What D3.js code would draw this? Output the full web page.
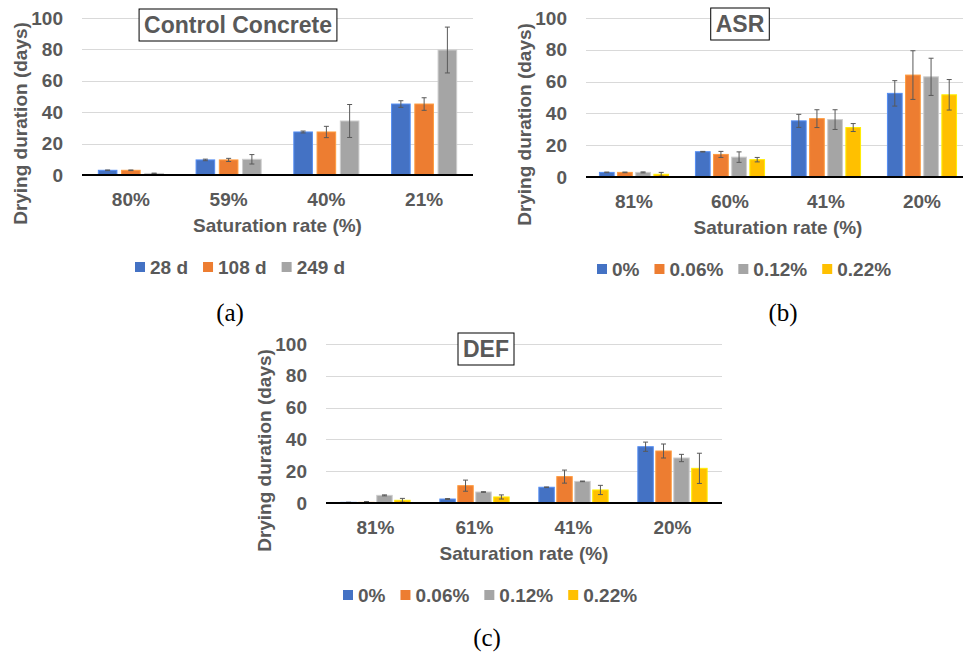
<!DOCTYPE html>
<meta charset="utf-8">
<style type="text/css">
body {
  margin: 0;
  background: #fff;
  font-family: "Liberation Sans", Arial, sans-serif;
}
svg text {
  fill: #595959;
  font-weight: bold;
  font-family: "Liberation Sans", Arial, sans-serif;
}
.grid line {
  stroke: #d9d9d9;
  stroke-width: 1px;
  shape-rendering: crispEdges;
}
.grid text, .cat text {
  font-size: 19px;
}
.title {
  font-size: 23px;
}
.axis-title {
  font-size: 19px;
}
.legend text {
  font-size: 19px;
}
svg text.panel-label {
  font-family: "Liberation Serif", "Times New Roman", serif;
  font-weight: normal;
  font-size: 25px;
  fill: #000;
}
.err {
  stroke: #595959;
  stroke-width: 1px;
}
</style>
<body>
</body>

<script src="https://cdn.jsdelivr.net/npm/d3@7"></script>
<script>
// colours (excel defaults)
var colors = ["#4472c4", "#ed7d31", "#a5a5a5", "#ffc000"];
var yTicks = [0, 20, 40, 60, 80, 100];

// (a) control concrete
var catsA = ["80%", "59%", "40%", "21%"];
var seriesA = ["28 d", "108 d", "249 d"];
var valsA = [
  [3.0, 9.6, 27.4, 45.2],
  [3.0, 9.6, 27.4, 45.2],
  [1.0, 10.0, 34.4, 79.6]
];
var errA = [
  [0.2, 0.5, 0.6, 2.1],
  [0.2, 1.0, 3.6, 4.0],
  [0.2, 3.0, 10.5, 14.6]
];

// (b) ASR
var catsB = ["81%", "60%", "41%", "20%"];
var seriesB = ["0%", "0.06%", "0.12%", "0.22%"];
var valsB = [
  [2.9, 15.9, 35.3, 52.6],
  [2.9, 14.2, 36.7, 64.1],
  [2.9, 12.5, 36.1, 63.0],
  [1.7, 10.9, 31.1, 51.7]
];
var errB = [
  [0.2, 0.2, 4.1, 8.0],
  [0.2, 1.9, 5.6, 15.3],
  [0.3, 3.3, 6.2, 11.7],
  [1.2, 1.4, 2.5, 9.6]
];

// (c) DEF
var catsC = ["81%", "61%", "41%", "20%"];
var seriesC = ["0%", "0.06%", "0.12%", "0.22%"];
var valsC = [
  [0.4, 2.5, 9.9, 35.4],
  [0.4, 10.9, 16.6, 32.7],
  [4.8, 6.9, 13.6, 28.3],
  [1.7, 3.8, 8.2, 21.8]
];
var errC = [
  [0.1, 0.3, 0.2, 2.9],
  [0.5, 3.5, 4.1, 4.4],
  [0.3, 0.2, 0.2, 2.3],
  [1.2, 1.3, 2.9, 9.5]
];

var panels = [
  { cats: catsA, series: seriesA, vals: valsA, errs: errA, title: "Control Concrete",
    x0: 82, x1: 473, yTop: 18, yBot: 175, step: 0.222, fill: 0.8,
    titleX: 238, titleY: 25, legendX: 135, label: "(a)", labelX: 230, labelY: 312 },
  { cats: catsB, series: seriesB, vals: valsB, errs: errB, title: "ASR",
    x0: 586, x1: 970, yTop: 18, yBot: 177, step: 0.18, fill: 0.81,
    titleX: 740, titleY: 24, legendX: 597, label: "(b)", labelX: 783, labelY: 312 },
  { cats: catsC, series: seriesC, vals: valsC, errs: errC, title: "DEF",
    x0: 326, x1: 722, yTop: 344, yBot: 503, step: 0.175, fill: 0.86,
    titleX: 486, titleY: 349, legendX: 343, label: "(c)", labelX: 487, labelY: 637 }
];

var svg = d3.select("body")
  .append("svg")
    .attr("width", 963)
    .attr("height", 655);

panels.forEach(function(p) {
  var g = svg.append("g");

  var x = d3.scaleBand()
    .domain(p.cats)
    .range([p.x0, p.x1]);

  var bw = x.bandwidth();
  var n = p.series.length;
  var inner = d3.scaleBand()
    .domain(d3.range(n))
    .range([bw / 2 - n * bw * p.step / 2, bw / 2 + n * bw * p.step / 2])
    .paddingInner(1 - p.fill);

  var y = d3.scaleLinear()
    .domain([0, 100])
    .range([p.yBot, p.yTop]);

  // gridlines + tick labels
  var yAxis = d3.axisLeft(y)
    .tickValues(yTicks)
    .tickSize(-(p.x1 - p.x0))
    .tickPadding(19);

  var grid = g.append("g")
    .attr("class", "grid")
    .attr("transform", "translate(" + p.x0 + ",0)")
    .call(yAxis)
    .attr("font-family", null)
    .attr("font-size", null);
  grid.select(".domain").remove();
  grid.selectAll("text").attr("x", -19);
  grid.selectAll(".tick line").attr("x1", 0);

  // bars
  p.series.forEach(function(s, si) {
    var data = p.cats.map(function(c, ci) {
      return { cat: c, v: p.vals[si][ci], e: p.errs[si][ci] };
    });

    g.selectAll("rect.s" + si)
      .data(data)
      .enter().append("rect")
        .attr("class", "s" + si)
        .attr("x", function(d) { return x(d.cat) + inner(si); })
        .attr("width", inner.bandwidth())
        .attr("y", function(d) { return y(d.v); })
        .attr("height", function(d) { return y(0) - y(d.v); })
        .style("fill", colors[si])
        .style("stroke", d3.color(colors[si]).brighter(0.6))
        .style("stroke-width", 1);

    var eg = g.selectAll("g.e" + si)
      .data(data)
      .enter().append("g")
        .attr("class", "err")
        .attr("transform", function(d) {
          return "translate(" + (x(d.cat) + inner(si) + inner.bandwidth() / 2) + ",0)";
        });
    eg.append("line")
      .attr("y1", function(d) { return y(d.v + d.e); })
      .attr("y2", function(d) { return y(Math.max(0, d.v - d.e)); });
    eg.append("line")
      .attr("x1", -2.5).attr("x2", 2.5)
      .attr("y1", function(d) { return y(d.v + d.e); })
      .attr("y2", function(d) { return y(d.v + d.e); });
    eg.append("line")
      .attr("x1", -2.5).attr("x2", 2.5)
      .attr("y1", function(d) { return y(Math.max(0, d.v - d.e)); })
      .attr("y2", function(d) { return y(Math.max(0, d.v - d.e)); });
  });

  // baseline
  g.append("line")
    .attr("x1", p.x0)
    .attr("x2", p.x1)
    .attr("y1", y(0))
    .attr("y2", y(0))
    .style("stroke", "#000")
    .style("stroke-width", 2);

  // category labels
  var xAxis = d3.axisBottom(x).tickSize(0);
  var cat = g.append("g")
    .attr("class", "cat")
    .attr("transform", "translate(0," + y(0) + ")")
    .call(xAxis)
    .attr("font-family", null)
    .attr("font-size", null);
  cat.select(".domain").remove();
  cat.selectAll("text")
    .attr("y", 24)
    .attr("dy", "0.35em");

  // axis titles
  g.append("text")
    .attr("class", "axis-title")
    .attr("x", (p.x0 + p.x1) / 2)
    .attr("y", y(0) + 50)
    .attr("dy", "0.35em")
    .attr("text-anchor", "middle")
    .text("Saturation rate (%)");

  g.append("text")
    .attr("class", "axis-title")
    .attr("transform", "translate(" + (p.x0 - 62) + "," + ((p.yTop + p.yBot) / 2 + 27) + ")rotate(-90)")
    .attr("dy", "0.35em")
    .attr("text-anchor", "middle")
    .text("Drying duration (days)");

  // boxed title
  var t = g.append("text")
    .attr("class", "title")
    .attr("x", p.titleX)
    .attr("y", p.titleY)
    .attr("dy", "0.35em")
    .attr("text-anchor", "middle")
    .text(p.title);
  var tw = t.node().getComputedTextLength();
  g.insert("rect", "text.title")
    .attr("x", p.titleX - tw / 2 - 5)
    .attr("y", p.titleY - 16)
    .attr("width", tw + 10)
    .attr("height", 32)
    .style("fill", "#fff")
    .style("stroke", "#000")
    .style("stroke-width", 1);

  // legend
  var lx = p.legendX;
  var ly = y(0) + 92;
  p.series.forEach(function(s, si) {
    var lg = g.append("g").attr("class", "legend");
    lg.append("rect")
      .attr("x", lx)
      .attr("y", ly - 5)
      .attr("width", 10)
      .attr("height", 10)
      .style("fill", colors[si]);
    var lt = lg.append("text")
      .attr("x", lx + 15)
      .attr("y", ly)
      .attr("dy", "0.35em")
      .text(s);
    lx += 15 + lt.node().getComputedTextLength() + 15;
  });

  // (a)/(b)/(c)
  g.append("text")
    .attr("class", "panel-label")
    .attr("x", p.labelX)
    .attr("y", p.labelY)
    .attr("dy", "0.35em")
    .attr("text-anchor", "middle")
    .text(p.label);
});
</script>
